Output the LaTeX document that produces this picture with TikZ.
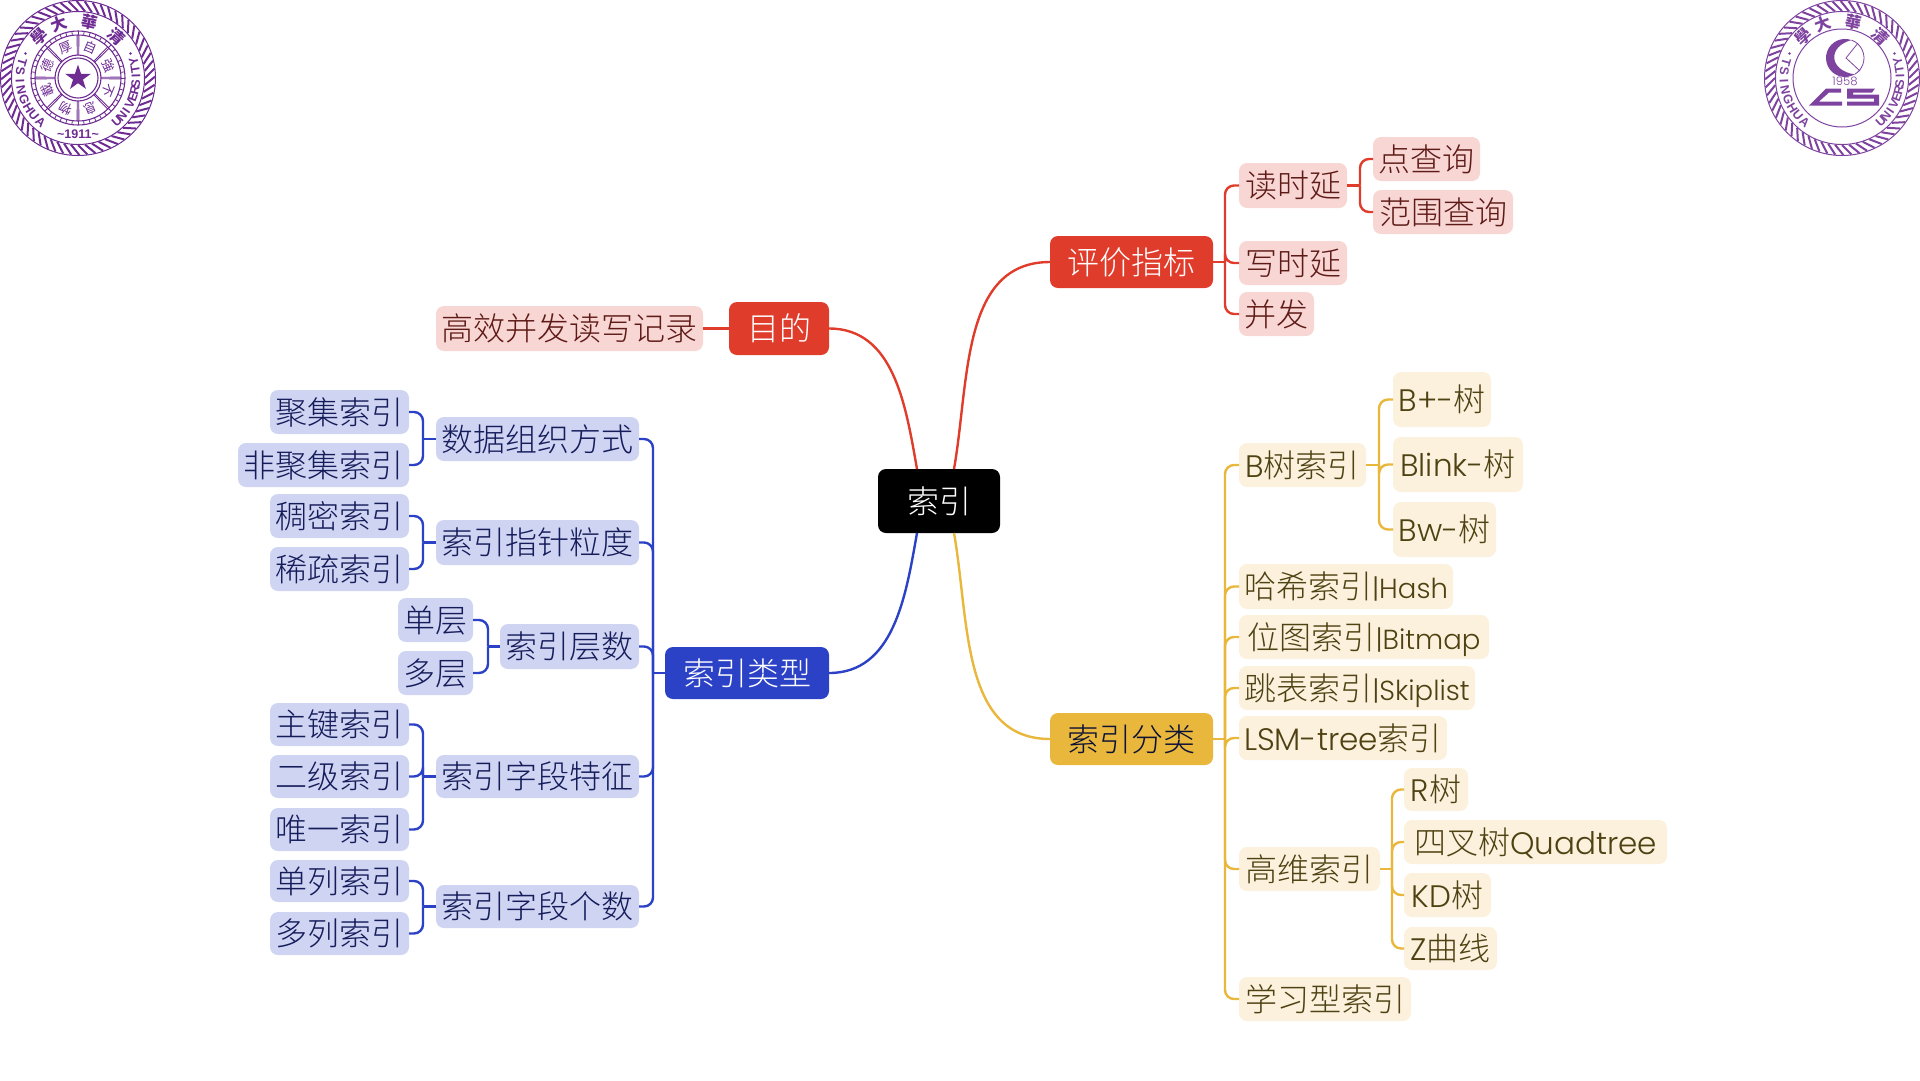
\documentclass[tikz,border=0pt]{standalone}
\usepackage{fontspec}
\usetikzlibrary{calc,shapes.geometric}
\setmainfont{Noto Sans CJK SC}[UprightFont=* Light]
\newfontfamily\lat{Poppins}[UprightFont=* Light,Scale=0.97]
\newfontfamily\latn{Poppins}[UprightFont=* Light,Scale=0.86]
\newfontfamily\tc{Noto Sans CJK TC}
\newfontfamily\seal{Liberation Sans}
\definecolor{redm}{HTML}{E03C2B}
\definecolor{bluem}{HTML}{2B41C6}
\definecolor{yelm}{HTML}{E8B73C}
\definecolor{redl}{HTML}{F8D6D4}
\definecolor{bluel}{HTML}{D0D4F3}
\definecolor{yell}{HTML}{FBF1DC}
\definecolor{redt}{HTML}{5E1A16}
\definecolor{bluet}{HTML}{141C5A}
\definecolor{yelt}{HTML}{4E4112}
\definecolor{purp}{HTML}{6E2C93}
\definecolor{purq}{HTML}{7E429F}
\tikzset{
  every node/.style={inner sep=0pt,outer sep=0pt,align=center},
  bxbase/.style={rounded corners=8pt,text height=27.5pt,text depth=3.5pt,font=\fontsize{32}{32}\selectfont},
  rootbox/.style={bxbase,fill=black,text=white},
  redmain/.style={bxbase,fill=redm,text=white},
  bluemain/.style={bxbase,fill=bluem,text=white},
  yelmain/.style={bxbase,fill=yelm,text=bluet!60!black},
  redsub/.style={bxbase,fill=redl,text=redt},
  bluesub/.style={bxbase,fill=bluel,text=bluet},
  yelsub/.style={bxbase,fill=yell,text=yelt},
  redline/.style={draw=redm,line width=2.4pt},
  blueline/.style={draw=bluem,line width=2.4pt},
  yelline/.style={draw=yelm,line width=2.4pt},
  rope/.style={line width=2pt},
  sealbig/.style={font=\tc\bfseries\fontsize{16}{16}\selectfont},
  seallat/.style={font=\seal\bfseries\fontsize{12.5}{12.5}\selectfont},
}
% style, name, x1, y1, x2, y2, text
\newcommand\bx[7]{\node[#1,minimum width={(#5-#3)*1pt},minimum height={(#6-#4)*1pt}] (#2) at ({(#3+#5)/2},{(#4+#6)/2}) {#7};}
% style, parent, dx, children: parent on the left
\newcommand\rlink[4]{%
  \foreach \c in {#4} \draw[#1,rounded corners=9pt] (\c.west) -| ($(#2.east)+(#3,0)$);
  \draw[#1] (#2.east) -- ++(#3,0);}
\newcommand\llink[4]{%
  \foreach \c in {#4} \draw[#1,rounded corners=9pt] (\c.east) -| ($(#2.west)+(-#3,0)$);
  \draw[#1] (#2.west) -- ++(-#3,0);}
% rope border of a seal
\newcommand\sealring[1]{%
  \foreach \a in {0,6,...,354} \draw[#1,rope] (\a:67) -- (\a+7:77);
  \draw[#1,line width=1pt] (0,0) circle (77.5);
  \draw[#1,line width=1pt] (0,0) circle (66.5);}
\newcommand\sealtext[1]{%
  \node[text=#1,sealbig,rotate=43] at (133:57) {學};
  \node[text=#1,sealbig,rotate=20] at (110:57) {大};
  \node[text=#1,sealbig,rotate=-12] at (78:57) {華};
  \node[text=#1,sealbig,rotate=-43] at (47:57) {清};
  \foreach \ch [count=\i from 0] in {T,S,I,N,G,H,U,A} {
    \pgfmathsetmacro\ang{164+\i*9.4}
    \node[text=#1,seallat,rotate=\ang+90] at (\ang:58) {\ch};}
  \foreach \ch [count=\i from 0] in {U,N,I,V,E,R,S,I,T,Y} {
    \pgfmathsetmacro\ang{312+\i*7.1}
    \node[text=#1,seallat,rotate=\ang+90] at (\ang:58) {\ch};}
  \fill[#1] (155:58) circle (1.4);
  \fill[#1] (25:58) circle (1.4);}
\begin{document}
\begin{tikzpicture}[x=1pt,y=-1pt]
\useasboundingbox (0,0) rectangle (1920,1080);
% root and branches
\bx{rootbox}{root}{878}{469}{1000}{533}{索引}
\bx{redmain}{mudi}{729}{302}{829}{355}{目的}
\bx{redsub}{rec}{436}{306}{703}{351}{高效并发读写记录}
\bx{redmain}{pingjia}{1050}{236}{1213}{288}{评价指标}
\bx{bluemain}{leixing}{665}{647}{829}{699}{索引类型}
\bx{yelmain}{fenlei}{1050}{713}{1213}{765}{索引分类}
% red right
\bx{redsub}{du}{1239}{163}{1347}{208}{读时延}
\bx{redsub}{dian}{1373}{137}{1480}{181}{点查询}
\bx{redsub}{fanwei}{1373}{190}{1513}{234}{范围查询}
\bx{redsub}{xie}{1239}{241}{1347}{285}{写时延}
\bx{redsub}{bingfa}{1239}{292}{1314}{336}{并发}
% blue left
\bx{bluesub}{juji}{270}{390}{409}{434}{聚集索引}
\bx{bluesub}{feiju}{238}{443}{409}{487}{非聚集索引}
\bx{bluesub}{shuju}{436}{417}{639}{461}{数据组织方式}
\bx{bluesub}{choumi}{270}{494}{409}{538}{稠密索引}
\bx{bluesub}{xishu}{270}{547}{409}{591}{稀疏索引}
\bx{bluesub}{zhizhen}{436}{520}{639}{565}{索引指针粒度}
\bx{bluesub}{dan}{398}{598}{473}{642}{单层}
\bx{bluesub}{duo}{398}{651}{473}{695}{多层}
\bx{bluesub}{cengshu}{500}{624}{639}{669}{索引层数}
\bx{bluesub}{zhujian}{270}{703}{409}{746}{主键索引}
\bx{bluesub}{erji}{270}{755}{409}{798}{二级索引}
\bx{bluesub}{weiyi}{270}{808}{409}{851}{唯一索引}
\bx{bluesub}{tezheng}{436}{755}{639}{798}{索引字段特征}
\bx{bluesub}{danlie}{270}{860}{409}{902}{单列索引}
\bx{bluesub}{duolie}{270}{912}{409}{955}{多列索引}
\bx{bluesub}{geshu}{436}{885}{639}{928}{索引字段个数}
% yellow right
\bx{yelsub}{bshu}{1239}{443}{1366}{487}{{\lat B}树索引}
\bx{yelsub}{bplus}{1393}{372}{1491}{427}{{\lat B+-}树}
\bx{yelsub}{blink}{1393}{437}{1523}{492}{{\lat Blink-}树}
\bx{yelsub}{bw}{1393}{502}{1496}{557}{{\lat Bw-}树}
\bx{yelsub}{hash}{1239}{564}{1453}{609}{哈希索引{\latn |Hash}}
\bx{yelsub}{bitmap}{1239}{615}{1489}{659}{位图索引{\latn |Bitmap}}
\bx{yelsub}{skip}{1239}{666}{1475}{710}{跳表索引{\latn |Skiplist}}
\bx{yelsub}{lsm}{1239}{716}{1447}{760}{{\lat LSM-tree}索引}
\bx{yelsub}{gaowei}{1239}{847}{1380}{891}{高维索引}
\bx{yelsub}{rshu}{1404}{768}{1468}{811}{{\lat R}树}
\bx{yelsub}{quad}{1404}{820}{1667}{864}{四叉树{\lat Quadtree}}
\bx{yelsub}{kd}{1404}{873}{1491}{917}{{\lat KD}树}
\bx{yelsub}{zqx}{1404}{927}{1497}{970}{{\lat Z}曲线}
\bx{yelsub}{xuexi}{1239}{977}{1411}{1021}{学习型索引}
% main curves
\draw[redline] (mudi.east) to[out=0,in=100] ($(root.north)+(-22,0)$);
\draw[redline] (pingjia.west) to[out=180,in=80] ($(root.north)+(15,0)$);
\draw[blueline] (leixing.east) to[out=0,in=-100] ($(root.south)+(-22,0)$);
\draw[yelline] (fenlei.west) to[out=180,in=-80] ($(root.south)+(15,0)$);
\draw[redline] (mudi.west) -- (rec.east);
% brackets
\rlink{redline}{pingjia}{12}{du,xie,bingfa}
\rlink{redline}{du}{13}{dian,fanwei}
\llink{blueline}{leixing}{12}{shuju,zhizhen,cengshu,tezheng,geshu}
\llink{blueline}{shuju}{13}{juji,feiju}
\llink{blueline}{zhizhen}{13}{choumi,xishu}
\llink{blueline}{cengshu}{12}{dan,duo}
\llink{blueline}{tezheng}{13}{zhujian,erji,weiyi}
\llink{blueline}{geshu}{13}{danlie,duolie}
\rlink{yelline}{fenlei}{12}{bshu,hash,bitmap,skip,lsm,gaowei,xuexi}
\rlink{yelline}{bshu}{13}{bplus,blink,bw}
\rlink{yelline}{gaowei}{12}{rshu,quad,kd,zqx}
% left seal
\begin{scope}[shift={(78,78)},yscale=-1]
  \sealring{purp}
  \sealtext{purp}
  \node[text=purp,seallat] at (0,-56) {\textasciitilde 1911\textasciitilde};
  \draw[purp,line width=1.1pt] (0,0) circle (47);
  \draw[purp,line width=1.1pt] (0,0) circle (43);
  \foreach \a in {0,7.5,...,352.5} \draw[purp,line width=.8pt] (\a:43) -- (\a:47);
  \draw[purp,line width=1.1pt] (0,0) circle (20);
  \draw[purp,line width=1.1pt] (0,0) circle (23);
  \foreach \a in {0,45,...,315} {
    \draw[purp,line width=.9pt] (\a-1.8:23) -- (\a-1.2:43);
    \draw[purp,line width=.9pt] (\a+1.8:23) -- (\a+1.2:43);}
  \foreach \ch/\a in {自/67.5,強/22.5,不/-22.5,息/-67.5,厚/112.5,德/157.5,載/202.5,物/247.5}
    \node[text=purp,font=\tc\fontsize{13}{13}\selectfont,rotate=\a-90] at (\a:33) {\ch};
  \node[star,star points=5,star point ratio=2.62,fill=purp,minimum size=27pt] at (0,0) {};
\end{scope}
% right seal
\begin{scope}[shift={(1842,78)},yscale=-1]
  \sealring{purq}
  \sealtext{purq}
  \draw[purq,line width=1pt] (0,0) circle (49);
  % moon and clock hand
  \fill[purq] (9.5,37.9) arc (70:300:19) .. controls (-14,8) and (-14,32) .. (9.5,37.9) -- cycle;
  \draw[purq,line width=.8pt] (9.5,37.9) arc (70:-60:19);
  \draw[purq,line width=.8pt] (16,35) -- (4,20) -- (18,7);
  \node[text=purq,font=\lat\fontsize{12}{12}\selectfont] at (3,-3) {1958};
  % CS letters
  \fill[purq] (-1,-10.5) -- (-16,-10.5) -- (-33,-27.5) -- (0,-27.5) -- (0,-23.5) -- (-23,-23.5) -- (-13,-14.5) -- (-1,-14.5) -- cycle;
  \fill[purq] (5,-10.5) -- (33,-10.5) -- (30,-14.5) -- (11,-14.5) -- (11,-16.5) -- (37,-16.5) -- (37,-27.5) -- (5,-27.5) -- (5,-23.5) -- (32,-23.5) -- (32,-20.5) -- (5,-20.5) -- cycle;
\end{scope}
\end{tikzpicture}
\end{document}
